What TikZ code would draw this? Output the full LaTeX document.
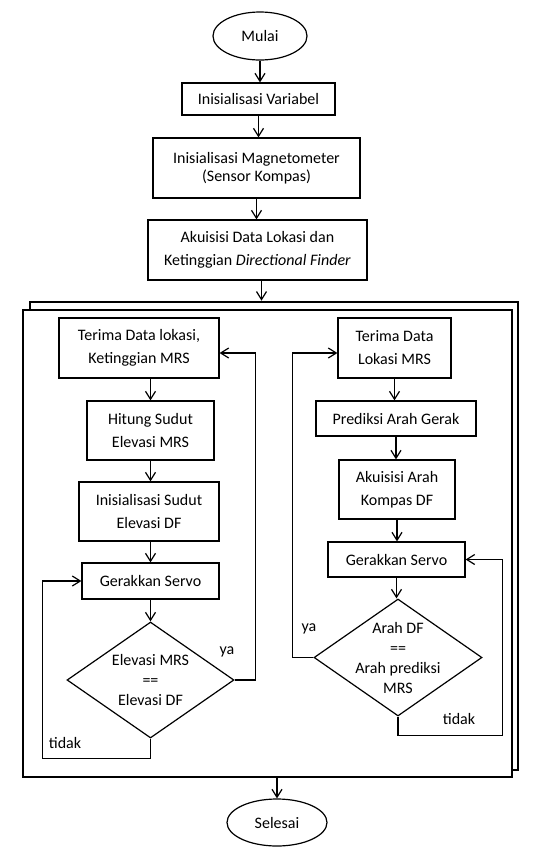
\documentclass[tikz,border=0pt]{standalone}
\usepackage{fontspec}
\setmainfont{Carlito}
\usetikzlibrary{shapes.geometric, arrows.meta, positioning}
\usetikzlibrary{calc}

\begin{document}
\begin{tikzpicture}[x=1pt,y=-1pt,
		font=\fontsize{16}{23}\selectfont,
		kotak/.style={draw,line width=1.2pt,align=center,inner sep=0pt},
		ujung/.style={draw,ellipse,line width=1.2pt,inner sep=0pt},
		cek/.style={draw,diamond,line width=1.2pt,inner sep=0pt},
		isicek/.style={align=center,font=\fontsize{16}{20}\selectfont},
		panah/.style={line width=1.2pt,-{Straight Barb[length=8pt,width=10pt]}},
		bingkai/.style={draw,line width=2.7pt,fill=white,inner sep=0pt}]
				\useasboundingbox (0,0) rectangle (537,855);
				% awal
				\node[ujung,minimum width=94pt,minimum height=48pt] (mulai) at (260,36) {Mulai};
				\node[kotak,minimum width=153pt,minimum height=32pt] (var) at (258.5,99) {Inisialisasi Variabel};
				\node[kotak,minimum width=207pt,minimum height=60pt,font=\fontsize{16}{18}\selectfont] (mag) at (256.5,168) {Inisialisasi Magnetometer\\(Sensor Kompas)};
				\node[kotak,minimum width=219pt,minimum height=60pt] (akui) at (257.5,250) {Akuisisi Data Lokasi dan\\Ketinggian \textit{Directional Finder}};
				\draw[panah] (mulai.south) -- (mulai.south |- var.north);
				\draw[panah] (var.south) -- (var.south |- mag.north);
				\draw[panah] (mag.south) -- (mag.south |- akui.north);
				
				% bingkai proses paralel
				\node[bingkai,minimum width=488pt,minimum height=468pt] (belakang) at (274,536) {};
				\node[bingkai,minimum width=489pt,minimum height=467pt] (depan) at (267.5,543.5) {};
				\draw[panah] ([xshift=4pt]akui.south) -- ([xshift=4pt]akui.south |- belakang.north);
				
				% kolom kiri
				\node[kotak,minimum width=160pt,minimum height=60pt] (terimaL) at (139,348) {Terima Data lokasi,\\Ketinggian MRS};
				\node[kotak,minimum width=127pt,minimum height=59pt] (hitung) at (150.5,430.5) {Hitung Sudut\\Elevasi MRS};
				\node[kotak,minimum width=140pt,minimum height=59pt] (sudut) at (149,511.5) {Inisialisasi Sudut\\Elevasi DF};
				\node[kotak,minimum width=137pt,minimum height=36pt] (servoL) at (150.5,581) {Gerakkan Servo};
				\node[cek,minimum width=167pt,minimum height=116pt,label={[isicek]center:Elevasi MRS\\==\\Elevasi DF}] (cekL) at (150.5,680) {};
				\draw[panah] (hitung.north |- terimaL.south) -- (hitung.north);
				\draw[panah] (hitung.south) -- (hitung.south |- sudut.north);
				\draw[panah] (servoL.north |- sudut.south) -- (servoL.north);
				\draw[panah] (servoL.south) -- (cekL.north);
				\draw[panah] (cekL.east) -- ++(21,0) |- ([yshift=-5pt]terimaL.east);
				\draw[panah] (cekL.south) -- ++(0,20) -| ([xshift=-39pt]servoL.west) -- (servoL.west);
				\node (yaL) at (227,652) {ya};
				\node (tidakL) at (65,743) {tidak};
				
				% kolom kanan
				\node[kotak,minimum width=113pt,minimum height=60pt] (terimaR) at (394.5,348) {Terima Data\\Lokasi MRS};
				\node[kotak,minimum width=160pt,minimum height=35pt] (prediksi) at (396,418.5) {Prediksi Arah Gerak};
				\node[kotak,minimum width=116pt,minimum height=59pt] (kompas) at (397,489.5) {Akuisisi Arah\\Kompas DF};
				\node[kotak,minimum width=137pt,minimum height=35pt] (servoR) at (396.5,559.5) {Gerakkan Servo};
				\node[cek,minimum width=168pt,minimum height=117pt,label={[isicek]center:Arah DF\\==\\Arah prediksi\\MRS}] (cekR) at (398,657.5) {};
				\draw[panah] (terimaR.south) -- (terimaR.south |- prediksi.north);
				\draw[panah] (prediksi.south) -- (prediksi.south |- kompas.north);
				\draw[panah] (kompas.south) -- (kompas.south |- servoR.north);
				\draw[panah] (servoR.south) -- (servoR.south |- cekR.north);
				\draw[panah] (cekR.west) -- ++(-21,0) |- ([yshift=-5pt]terimaR.west);
				\draw[panah] (cekR.south) -- ++(0,19) -| ([xshift=37pt]servoR.east) -- (servoR.east);
				\node (yaR) at (309,629) {ya};
				\node (tidakR) at (459,719) {tidak};
				
				% akhir
				\node[ujung,minimum width=100pt,minimum height=47pt] (selesai) at (277,822.5) {Selesai};
				\draw[panah] (selesai.north |- depan.south) -- (selesai.north);
				
			\end{tikzpicture}
\end{document}
